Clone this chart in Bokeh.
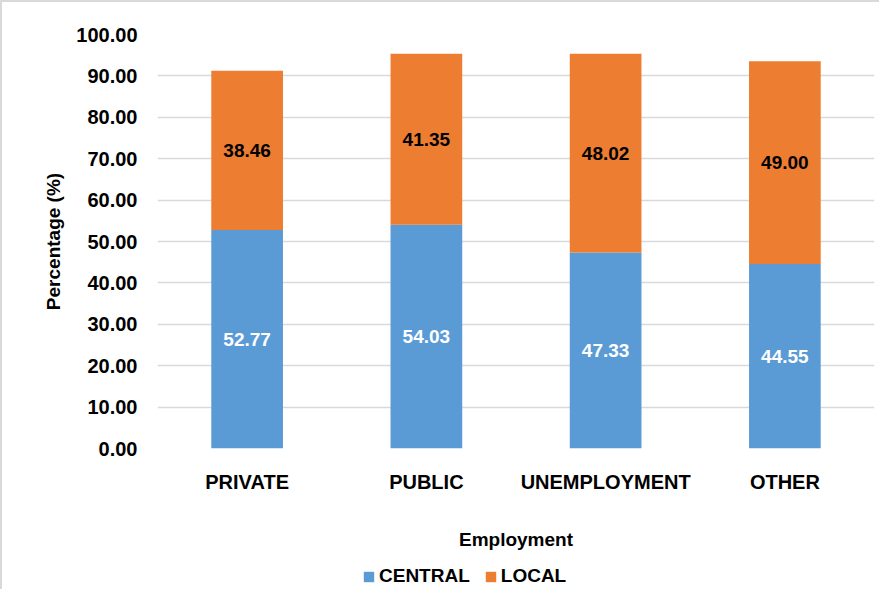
from bokeh.plotting import figure
from bokeh.layouts import column
from bokeh.models import ColumnDataSource, Range1d, FactorRange, Legend, LegendItem, FixedTicker, PrintfTickFormatter
from bokeh.core.properties import value
from bokeh.embed import file_html
from bokeh.resources import INLINE

categories = ["PRIVATE", "PUBLIC", "UNEMPLOYMENT", "OTHER"]
central = [52.77, 54.03, 47.33, 44.55]
local = [38.46, 41.35, 48.02, 49.00]
y_ticks = [0, 10, 20, 30, 40, 50, 60, 70, 80, 90, 100]
series_names = ["CENTRAL", "LOCAL"]

FONT = "Liberation Sans"
BLUE = "#5B9BD5"
ORANGE = "#ED7D31"
COLORS = [BLUE, ORANGE]

src = ColumnDataSource(dict(
    cat=categories,
    CENTRAL=central,
    LOCAL=local,
    c_mid=[c / 2 for c in central],
    l_mid=[c + l / 2 for c, l in zip(central, local)],
    c_txt=["%.2f" % c for c in central],
    l_txt=["%.2f" % l for l in local],
))

p = figure(width=877, height=560, x_range=FactorRange(*categories, range_padding=0),
           y_range=Range1d(0, 100), output_backend="svg", toolbar_location=None,
           min_border_left=155, min_border_right=5, min_border_top=32, min_border_bottom=114)
p.outline_line_color = None
p.x_range.range_padding = 0

r = p.vbar_stack(series_names, x="cat", width=0.4, source=src,
                 color=COLORS, line_color=None)

p.text(x="cat", y="c_mid", text="c_txt", source=src, text_align="center", text_baseline="middle",
       text_font=value(FONT), text_font_style="bold", text_font_size="19px", text_color="white")
p.text(x="cat", y="l_mid", text="l_txt", source=src, text_align="center", text_baseline="middle",
       text_font=value(FONT), text_font_style="bold", text_font_size="19px", text_color="black")

p.xgrid.grid_line_color = None
p.ygrid.grid_line_color = "#d9d9d9"
p.ygrid.grid_line_width = 1.5

p.yaxis.ticker = FixedTicker(ticks=y_ticks)
p.yaxis.formatter = PrintfTickFormatter(format="%.2f")
for ax in (p.xaxis[0], p.yaxis[0]):
    ax.axis_line_color = None
    ax.major_tick_line_color = None
    ax.minor_tick_line_color = None
    ax.major_tick_out = 0
    ax.major_tick_in = 0
    ax.major_label_text_font = FONT
    ax.major_label_text_font_style = "bold"
    ax.major_label_text_font_size = "20px"
    ax.major_label_text_color = "black"
    ax.axis_label_text_font = FONT
    ax.axis_label_text_font_style = "bold"
    ax.axis_label_text_font_size = "19px"
    ax.axis_label_text_color = "black"

p.yaxis.axis_label = "Percentage (%)"
p.yaxis.major_label_standoff = 20
p.yaxis.axis_label_standoff = 9
p.xaxis.axis_label = "Employment"
p.xaxis.major_label_standoff = 22
p.xaxis.axis_label_standoff = 33

# legend strip underneath (its frame is aligned with the main plot's frame by the column)
lp = figure(width=877, height=27, x_range=FactorRange(*categories, range_padding=0),
            y_range=Range1d(1000, 1001),
            output_backend="svg", toolbar_location=None,
            x_axis_location=None, y_axis_location=None,
            min_border_left=155, min_border_right=5, min_border_top=0, min_border_bottom=0)
lp.outline_line_color = None
lp.xgrid.grid_line_color = None
lp.ygrid.grid_line_color = None
lr = lp.vbar_stack(series_names, x="cat", width=0.4, source=src, color=COLORS, line_color=None)

legend = Legend(items=[LegendItem(label=n, renderers=[d]) for n, d in zip(series_names, lr)],
                orientation="horizontal", location=(205, 2),
                label_text_font=FONT, label_text_font_style="bold", label_text_font_size="19px",
                label_text_color="black",
                glyph_width=13, glyph_height=13, label_standoff=4, spacing=14,
                padding=0, margin=0, border_line_color=None, background_fill_alpha=0)
lp.add_layout(legend, "center")

layout = column(p, lp, spacing=0)
layout.styles = {"border-top": "2px solid #d9d9d9", "border-left": "2px solid #d9d9d9"}
open("out.html", "w").write(file_html(layout, INLINE))
